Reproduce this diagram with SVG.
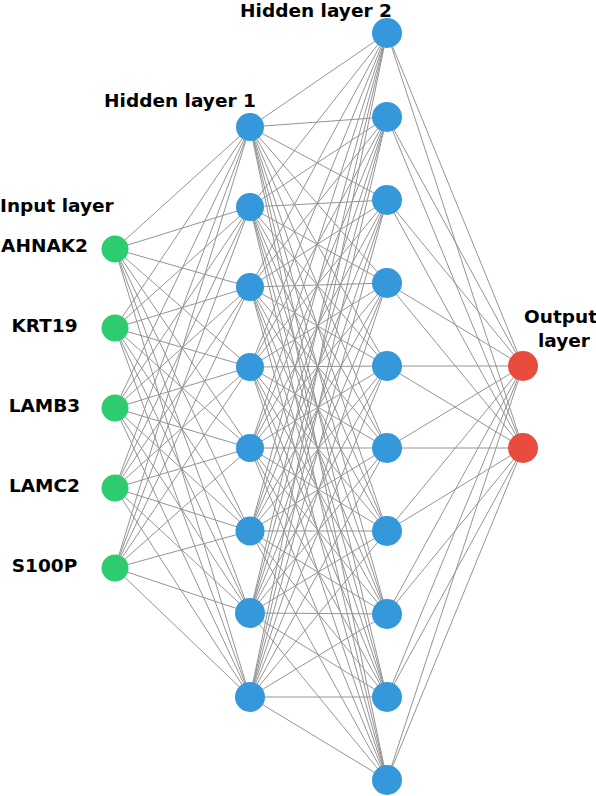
<svg xmlns="http://www.w3.org/2000/svg" width="596" height="796" viewBox="0 0 596 796">
<style>
.bg{fill:#ffffff}
.c{stroke:#949494;stroke-width:1;fill:none}
.in{fill:#2ecc71}
.h{fill:#3498db}
.out{fill:#e74c3c}
.t{font-family:"DejaVu Sans","Verdana",sans-serif;font-weight:bold;font-size:18.5px;fill:#000}
</style>
<rect class="bg" x="0" y="0" width="596" height="796"/>
<g id="connectors">
<path class="c" d="M115 249L250 127M115 249L250 207M115 249L250 287M115 249L250 367M115 249L250 448M115 249L250 531M115 249L250 613M115 249L250 697"/>
<path class="c" d="M115 328L250 127M115 328L250 207M115 328L250 287M115 328L250 367M115 328L250 448M115 328L250 531M115 328L250 613M115 328L250 697"/>
<path class="c" d="M115 408L250 127M115 408L250 207M115 408L250 287M115 408L250 367M115 408L250 448M115 408L250 531M115 408L250 613M115 408L250 697"/>
<path class="c" d="M115 488L250 127M115 488L250 207M115 488L250 287M115 488L250 367M115 488L250 448M115 488L250 531M115 488L250 613M115 488L250 697"/>
<path class="c" d="M115 568L250 127M115 568L250 207M115 568L250 287M115 568L250 367M115 568L250 448M115 568L250 531M115 568L250 613M115 568L250 697"/>
<path class="c" d="M250 127L387 33M250 127L387 117M250 127L387 200M250 127L387 283M250 127L387 366M250 127L387 448M250 127L387 531M250 127L387 614M250 127L387 697M250 127L387 780"/>
<path class="c" d="M250 207L387 33M250 207L387 117M250 207L387 200M250 207L387 283M250 207L387 366M250 207L387 448M250 207L387 531M250 207L387 614M250 207L387 697M250 207L387 780"/>
<path class="c" d="M250 287L387 33M250 287L387 117M250 287L387 200M250 287L387 283M250 287L387 366M250 287L387 448M250 287L387 531M250 287L387 614M250 287L387 697M250 287L387 780"/>
<path class="c" d="M250 367L387 33M250 367L387 117M250 367L387 200M250 367L387 283M250 367L387 366M250 367L387 448M250 367L387 531M250 367L387 614M250 367L387 697M250 367L387 780"/>
<path class="c" d="M250 448L387 33M250 448L387 117M250 448L387 200M250 448L387 283M250 448L387 366M250 448L387 448M250 448L387 531M250 448L387 614M250 448L387 697M250 448L387 780"/>
<path class="c" d="M250 531L387 33M250 531L387 117M250 531L387 200M250 531L387 283M250 531L387 366M250 531L387 448M250 531L387 531M250 531L387 614M250 531L387 697M250 531L387 780"/>
<path class="c" d="M250 613L387 33M250 613L387 117M250 613L387 200M250 613L387 283M250 613L387 366M250 613L387 448M250 613L387 531M250 613L387 614M250 613L387 697M250 613L387 780"/>
<path class="c" d="M250 697L387 33M250 697L387 117M250 697L387 200M250 697L387 283M250 697L387 366M250 697L387 448M250 697L387 531M250 697L387 614M250 697L387 697M250 697L387 780"/>
<path class="c" d="M387 33L523 366M387 33L523 448M387 117L523 366M387 117L523 448M387 200L523 366M387 200L523 448M387 283L523 366M387 283L523 448M387 366L523 366M387 366L523 448"/>
<path class="c" d="M387 448L523 366M387 448L523 448M387 531L523 366M387 531L523 448M387 614L523 366M387 614L523 448M387 697L523 366M387 697L523 448M387 780L523 366M387 780L523 448"/>
</g>
<g id="labels">
<text class="t" x="0" y="212">Input layer</text>
<text class="t" x="180" y="106.5" text-anchor="middle">Hidden layer 1</text>
<text class="t" x="316" y="17" text-anchor="middle">Hidden layer 2</text>
<text class="t" x="524" y="323">Output</text>
<text class="t" x="538" y="347">layer</text>
</g>
<g id="input-layer">
<g id="in-AHNAK2"><circle class="in" cx="115" cy="249" r="13.5"/><text class="t" x="44.5" y="252" text-anchor="middle">AHNAK2</text></g>
<g id="in-KRT19"><circle class="in" cx="115" cy="328" r="13.5"/><text class="t" x="44.5" y="332" text-anchor="middle">KRT19</text></g>
<g id="in-LAMB3"><circle class="in" cx="115" cy="408" r="13.5"/><text class="t" x="44.5" y="412" text-anchor="middle">LAMB3</text></g>
<g id="in-LAMC2"><circle class="in" cx="115" cy="488" r="13.5"/><text class="t" x="44.5" y="492" text-anchor="middle">LAMC2</text></g>
<g id="in-S100P"><circle class="in" cx="115" cy="568" r="13.5"/><text class="t" x="44.5" y="572" text-anchor="middle">S100P</text></g>
</g>
<g id="hidden-layer-1">
<circle id="h1-1" class="h" cx="250" cy="127" r="14"/>
<circle id="h1-2" class="h" cx="250" cy="207" r="14"/>
<circle id="h1-3" class="h" cx="250" cy="287" r="14"/>
<circle id="h1-4" class="h" cx="250" cy="367" r="14"/>
<circle id="h1-5" class="h" cx="250" cy="448" r="14"/>
<circle id="h1-6" class="h" cx="250" cy="531" r="14.5"/>
<circle id="h1-7" class="h" cx="250" cy="613" r="15"/>
<circle id="h1-8" class="h" cx="250" cy="697" r="15"/>
</g>
<g id="hidden-layer-2">
<circle id="h2-1" class="h" cx="387" cy="33" r="15"/>
<circle id="h2-2" class="h" cx="387" cy="117" r="15"/>
<circle id="h2-3" class="h" cx="387" cy="200" r="15"/>
<circle id="h2-4" class="h" cx="387" cy="283" r="15"/>
<circle id="h2-5" class="h" cx="387" cy="366" r="15"/>
<circle id="h2-6" class="h" cx="387" cy="448" r="15"/>
<circle id="h2-7" class="h" cx="387" cy="531" r="15"/>
<circle id="h2-8" class="h" cx="387" cy="614" r="15"/>
<circle id="h2-9" class="h" cx="387" cy="697" r="15"/>
<circle id="h2-10" class="h" cx="387" cy="780" r="15"/>
</g>
<g id="output-layer">
<circle id="out-1" class="out" cx="523" cy="366" r="15"/>
<circle id="out-2" class="out" cx="523" cy="448" r="15"/>
</g>
</svg>
